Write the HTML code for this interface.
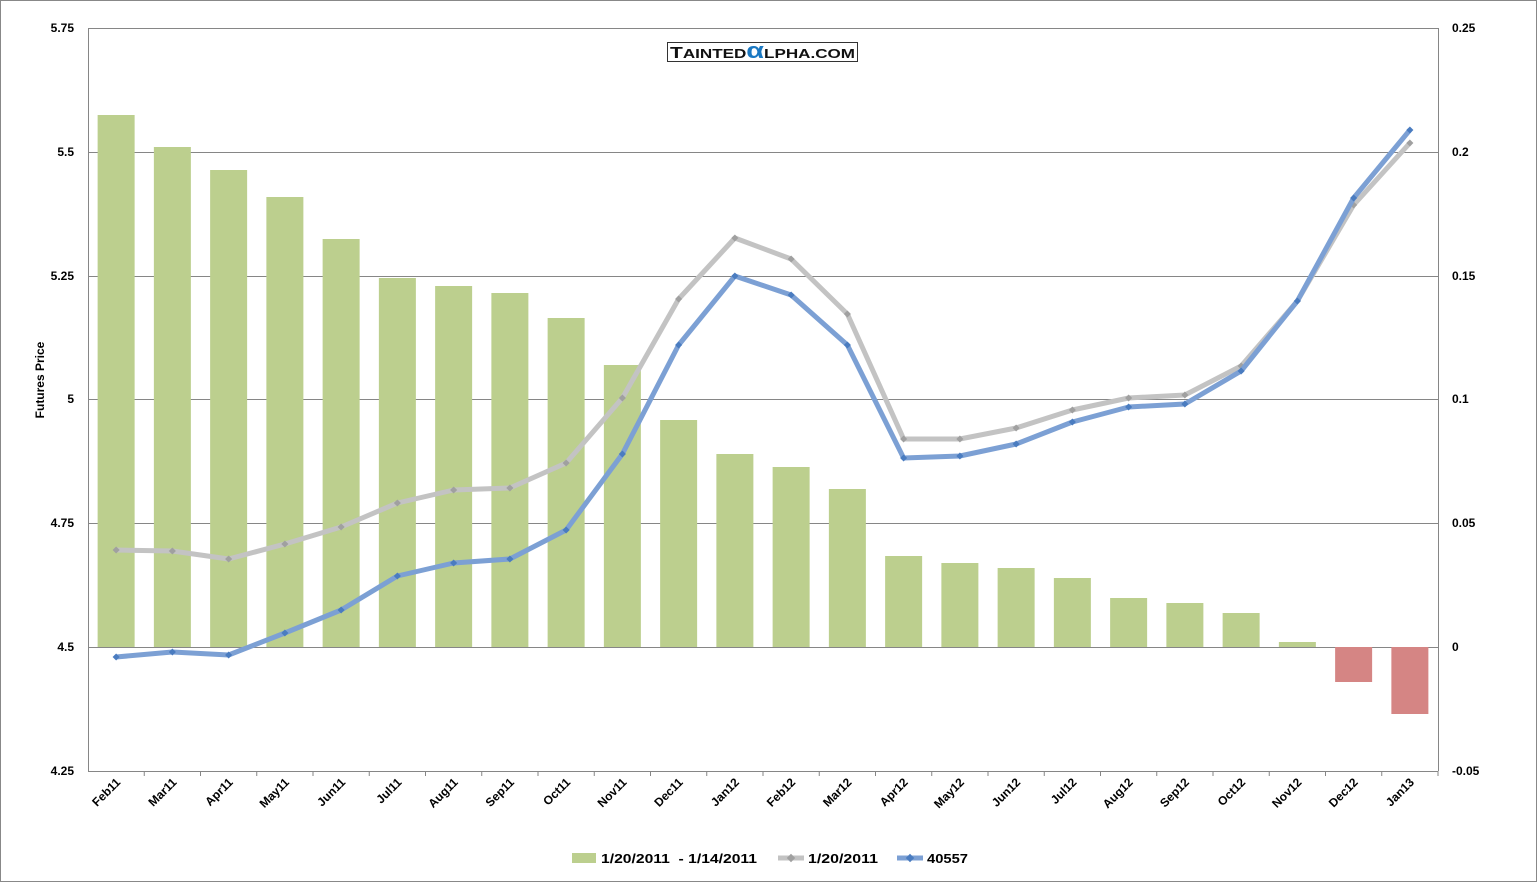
<!DOCTYPE html>
<html><head><meta charset="utf-8"><style>body{margin:0;background:#fff}svg{display:block}</style></head><body>
<svg width="1537" height="882" xmlns="http://www.w3.org/2000/svg" font-family="Liberation Sans, sans-serif">
<rect x="0.5" y="0.5" width="1536" height="881" fill="#fff" stroke="#888"/>
<g stroke="#868686" stroke-width="1">
<line x1="88" y1="28.5" x2="1438" y2="28.5"/><line x1="88" y1="152.5" x2="1438" y2="152.5"/><line x1="88" y1="276.5" x2="1438" y2="276.5"/><line x1="88" y1="399.5" x2="1438" y2="399.5"/><line x1="88" y1="523.5" x2="1438" y2="523.5"/><line x1="88" y1="647.5" x2="1438" y2="647.5"/>
<line x1="88.5" y1="28" x2="88.5" y2="771"/><line x1="1438.5" y1="28" x2="1438.5" y2="771"/><line x1="88" y1="771.5" x2="1438" y2="771.5"/>
</g>
<g id="bars"></g>
<g font-size="12" font-weight="bold" fill="#000" text-anchor="end">
<text x="74" y="32">5.75</text><text x="74" y="156">5.5</text><text x="74" y="280">5.25</text><text x="74" y="403">5</text><text x="74" y="527">4.75</text><text x="74" y="651">4.5</text><text x="74" y="775">4.25</text>
</g>
<g font-size="12" font-weight="bold" fill="#000">
<text x="1452" y="32">0.25</text><text x="1452" y="156">0.2</text><text x="1452" y="280">0.15</text><text x="1452" y="403">0.1</text><text x="1452" y="527">0.05</text><text x="1452" y="651">0</text><text x="1452" y="775">-0.05</text>
</g>
<text transform="translate(44,380) rotate(-90)" font-size="12" font-weight="bold" text-anchor="middle">Futures Price</text>
<rect x="667.5" y="42.5" width="190" height="19" fill="#fff" stroke="#333"/>
<text x="670" y="58" font-size="16" font-weight="bold" fill="#111" textLength="185" lengthAdjust="spacingAndGlyphs">T<tspan font-size="13">AINTED</tspan><tspan fill="#1a78c2" font-size="22">α</tspan><tspan font-size="13">LPHA.COM</tspan></text>
<g id="lines"></g>
<g id="labels" font-size="12" font-weight="bold"></g>
<rect x="572" y="853" width="24" height="10" fill="#bccf8e"/>
<text x="601" y="863" font-size="13" font-weight="bold" textLength="156" lengthAdjust="spacingAndGlyphs">1/20/2011&#160; - 1/14/2011</text>
<line x1="778" y1="858" x2="804" y2="858" stroke="#c3c3c3" stroke-width="5"/><rect x="788" y="855" width="6" height="6" fill="#a0a0a0" transform="rotate(45 791 858)"/>
<text x="808" y="863" font-size="13" font-weight="bold" textLength="70" lengthAdjust="spacingAndGlyphs">1/20/2011</text>
<line x1="897" y1="858" x2="923" y2="858" stroke="#7ca0d4" stroke-width="5"/><rect x="907" y="855" width="6" height="6" fill="#4a7cc0" transform="rotate(45 910 858)"/>
<text x="927" y="863" font-size="13" font-weight="bold" textLength="41" lengthAdjust="spacingAndGlyphs">40557</text>
</svg>
<script>
const labs=["Feb11","Mar11","Apr11","May11","Jun11","Jul11","Aug11","Sep11","Oct11","Nov11","Dec11","Jan12","Feb12","Mar12","Apr12","May12","Jun12","Jul12","Aug12","Sep12","Oct12","Nov12","Dec12","Jan13"];
const bars=[115,147,170,197,239,278,286,293,318,365,420,454,467,489,556,563,568,578,598,603,613,642,682,714];
const gray=[550,551,559,544,527,503,490,488,463,398,299,238,259,314,439,439,428,410,398,395,366,301,205,143];
const blue=[657,652,655,633,610,576,563,559,530,454,345,276,295,345,458,456,444,422,407,404,371,301,198,130];
const cx=i=>88+28.125+i*56.25;
let b=document.getElementById('bars'),l=document.getElementById('lines'),lb=document.getElementById('labels');
let h='';
bars.forEach((y,i)=>{const x=cx(i)-18.5;if(y<647)h+=`<rect x="${x}" y="${y}" width="37" height="${647-y}" fill="#bccf8e"/>`;else h+=`<rect x="${x}" y="647" width="37" height="${y-647}" fill="#d58584"/>`;});
b.innerHTML=h;
h='';
[[gray,'#c3c3c3','#a0a0a0'],[blue,'#7ca0d4','#4a7cc0']].forEach(([d,c,m])=>{
h+=`<polyline points="${d.map((y,i)=>cx(i)+','+y).join(' ')}" fill="none" stroke="${c}" stroke-width="5" stroke-linejoin="round"/>`;
d.forEach((y,i)=>{h+=`<rect x="${cx(i)-2.5}" y="${y-2.5}" width="5" height="5" fill="${m}" transform="rotate(45 ${cx(i)} ${y})"/>`;});
});
l.innerHTML=h;
h='';
labs.forEach((t,i)=>{const x=cx(i)+5,y=783;h+=`<text transform="translate(${x},${y}) rotate(-45)" text-anchor="end">${t}</text>`;});
h+=labs.map((t,i)=>`<line x1="${88+i*56.25+56.25}" y1="771" x2="${88+i*56.25+56.25}" y2="776" stroke="#868686"/>`).join('');
lb.innerHTML=h;
</script>
</body></html>
